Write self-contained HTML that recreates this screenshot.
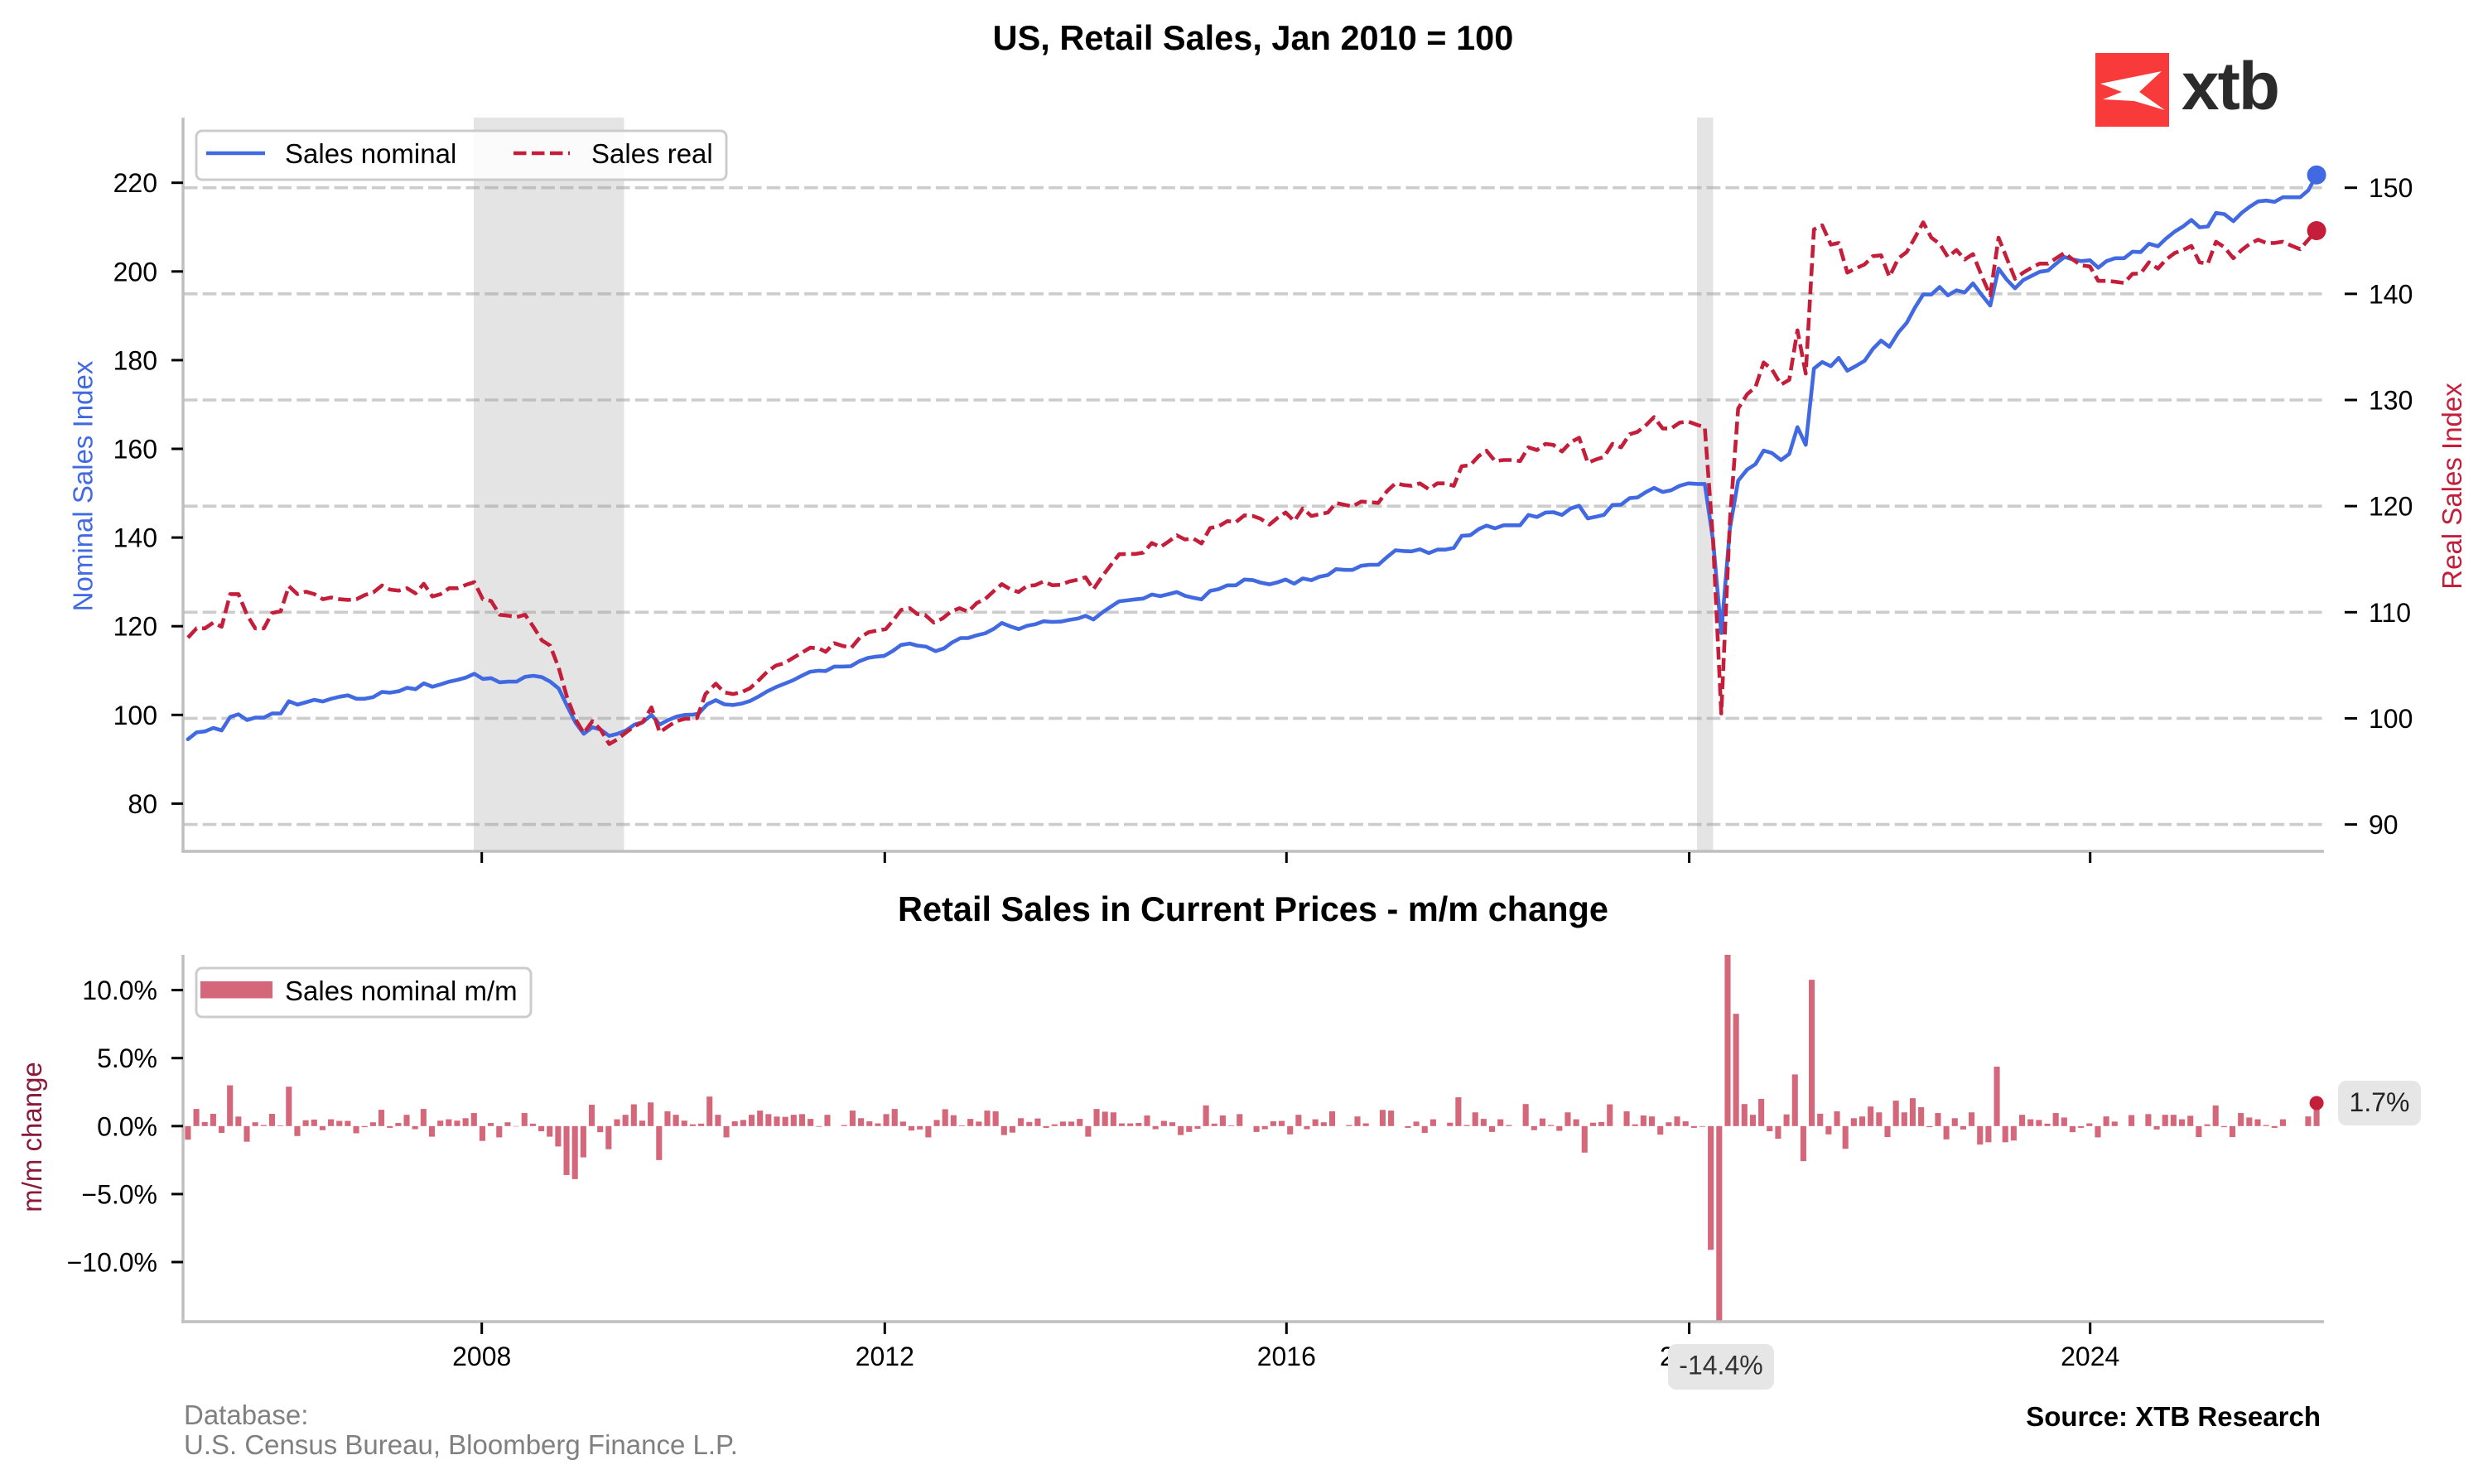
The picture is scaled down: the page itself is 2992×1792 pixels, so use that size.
<!DOCTYPE html>
<html>
<head>
<meta charset="utf-8">
<style>
html,body{margin:0;padding:0;background:#fff;}
svg{display:block;}
text{font-family:"Liberation Sans",Arial,sans-serif;}
</style>
</head>
<body>
<svg id="chart" width="2992" height="1792" viewBox="0 0 2992 1792" xmlns="http://www.w3.org/2000/svg">
<rect width="2992" height="1792" fill="#ffffff"/>

<!-- Title -->
<text x="1513" y="60" font-size="41.5" font-weight="bold" text-anchor="middle" fill="#000">US, Retail Sales, Jan 2010 = 100</text>

<!-- Logo -->
<rect x="2530" y="64" width="89" height="89" fill="#f93a3a"/>
<path d="M2536,101 L2610,86 L2583,111 L2614,133 L2577,122 L2539,120 L2562,111 Z" fill="#ffffff"/>
<text x="2634" y="132" font-size="82" font-weight="bold" fill="#2b2b2b" letter-spacing="-2">xtb</text>

<!-- Shaded recession regions -->
<rect x="572" y="142" width="181.5" height="886" fill="#e4e4e4"/>
<rect x="2049" y="142" width="19.5" height="886" fill="#e4e4e4"/>

<!-- Gridlines (right axis) -->
<g stroke="#999999" stroke-opacity="0.5" stroke-width="3.6" stroke-dasharray="16.5 6.2" fill="none">
<line x1="222" y1="226.7" x2="2806" y2="226.7"/>
<line x1="222" y1="354.85" x2="2806" y2="354.85"/>
<line x1="222" y1="483" x2="2806" y2="483"/>
<line x1="222" y1="611.15" x2="2806" y2="611.15"/>
<line x1="222" y1="739.3" x2="2806" y2="739.3"/>
<line x1="222" y1="867.45" x2="2806" y2="867.45"/>
<line x1="222" y1="995.6" x2="2806" y2="995.6"/>
</g>

<!-- Lines -->
<polyline id="blueLine" fill="none" stroke="#4169e1" stroke-width="4.6" stroke-linejoin="round" stroke-linecap="round" points=""/>
<polyline id="redLine" fill="none" stroke="#c41e3a" stroke-width="4.6" stroke-linejoin="round" stroke-dasharray="15.5 6.5" points=""/>
<circle cx="2797.1" cy="211.3" r="11.5" fill="#4169e1"/>
<circle cx="2797.1" cy="278.5" r="11.5" fill="#c41e3a"/>

<!-- Top chart spines -->
<g stroke="#bfbfbf" stroke-width="3.5">
<line x1="221" y1="142" x2="221" y2="1029.7"/>
<line x1="219.3" y1="1028" x2="2806" y2="1028"/>
</g>

<!-- Top chart left ticks -->
<g stroke="#000" stroke-width="3">
<line x1="207" y1="220.7" x2="221" y2="220.7"/>
<line x1="207" y1="327.8" x2="221" y2="327.8"/>
<line x1="207" y1="434.9" x2="221" y2="434.9"/>
<line x1="207" y1="542.0" x2="221" y2="542.0"/>
<line x1="207" y1="649.1" x2="221" y2="649.1"/>
<line x1="207" y1="756.2" x2="221" y2="756.2"/>
<line x1="207" y1="863.3" x2="221" y2="863.3"/>
<line x1="207" y1="970.4" x2="221" y2="970.4"/>
</g>
<g font-size="32" text-anchor="end" fill="#000">
<text x="190" y="232.2">220</text>
<text x="190" y="339.3">200</text>
<text x="190" y="446.4">180</text>
<text x="190" y="553.5">160</text>
<text x="190" y="660.6">140</text>
<text x="190" y="767.7">120</text>
<text x="190" y="874.8">100</text>
<text x="190" y="981.9">80</text>
</g>

<!-- Top chart right ticks -->
<g stroke="#000" stroke-width="3">
<line x1="2831" y1="226.7" x2="2846" y2="226.7"/>
<line x1="2831" y1="354.85" x2="2846" y2="354.85"/>
<line x1="2831" y1="483" x2="2846" y2="483"/>
<line x1="2831" y1="611.15" x2="2846" y2="611.15"/>
<line x1="2831" y1="739.3" x2="2846" y2="739.3"/>
<line x1="2831" y1="867.45" x2="2846" y2="867.45"/>
<line x1="2831" y1="995.6" x2="2846" y2="995.6"/>
</g>
<g font-size="32" text-anchor="start" fill="#000">
<text x="2860" y="238.2">150</text>
<text x="2860" y="366.35">140</text>
<text x="2860" y="494.5">130</text>
<text x="2860" y="622.65">120</text>
<text x="2860" y="750.8">110</text>
<text x="2860" y="878.95">100</text>
<text x="2860" y="1007.1">90</text>
</g>

<!-- Top chart x ticks -->
<g stroke="#000" stroke-width="3">
<line x1="581.7" y1="1029" x2="581.7" y2="1042"/>
<line x1="1068.3" y1="1029" x2="1068.3" y2="1042"/>
<line x1="1553.3" y1="1029" x2="1553.3" y2="1042"/>
<line x1="2039.6" y1="1029" x2="2039.6" y2="1042"/>
<line x1="2523.7" y1="1029" x2="2523.7" y2="1042"/>
</g>

<!-- Axis labels -->
<text transform="translate(111.5,587) rotate(-90)" font-size="33" text-anchor="middle" fill="#4169e1">Nominal Sales Index</text>
<text transform="translate(2972,587) rotate(-90)" font-size="33" text-anchor="middle" fill="#c41e3a">Real Sales Index</text>

<!-- Top legend -->
<rect x="237" y="158" width="640" height="59" rx="7" ry="7" fill="#ffffff" fill-opacity="0.85" stroke="#cccccc" stroke-width="3"/>
<line x1="249" y1="185" x2="320" y2="185" stroke="#4169e1" stroke-width="4.6"/>
<text x="344" y="197" font-size="33" fill="#000">Sales nominal</text>
<line x1="620" y1="185" x2="688" y2="185" stroke="#c41e3a" stroke-width="4.6" stroke-dasharray="15.5 6.5"/>
<text x="714" y="197" font-size="33" fill="#000">Sales real</text>

<!-- Subtitle -->
<text x="1513" y="1112" font-size="41.5" font-weight="bold" text-anchor="middle" fill="#000">Retail Sales in Current Prices - m/m change</text>

<!-- Bars -->
<g id="bars" fill="#d5677b"></g>
<circle cx="2797.1" cy="1332" r="8.5" fill="#c41e3a"/>

<!-- Bottom chart spines -->
<g stroke="#bfbfbf" stroke-width="3.5">
<line x1="221" y1="1153" x2="221" y2="1597.7"/>
<line x1="219.3" y1="1596" x2="2806" y2="1596"/>
</g>

<!-- Bottom chart y ticks -->
<g stroke="#000" stroke-width="3">
<line x1="207" y1="1195.6" x2="221" y2="1195.6"/>
<line x1="207" y1="1277.7" x2="221" y2="1277.7"/>
<line x1="207" y1="1359.8" x2="221" y2="1359.8"/>
<line x1="207" y1="1441.9" x2="221" y2="1441.9"/>
<line x1="207" y1="1524.0" x2="221" y2="1524.0"/>
</g>
<g font-size="32" text-anchor="end" fill="#000">
<text x="190" y="1207.1">10.0%</text>
<text x="190" y="1289.2">5.0%</text>
<text x="190" y="1371.3">0.0%</text>
<text x="190" y="1453.4">−5.0%</text>
<text x="190" y="1535.5">−10.0%</text>
</g>
<text transform="translate(50,1373) rotate(-90)" font-size="33" text-anchor="middle" fill="#8b1a3a">m/m change</text>

<!-- Bottom chart x ticks -->
<g stroke="#000" stroke-width="3">
<line x1="581.7" y1="1597" x2="581.7" y2="1611"/>
<line x1="1068.3" y1="1597" x2="1068.3" y2="1611"/>
<line x1="1553.3" y1="1597" x2="1553.3" y2="1611"/>
<line x1="2039.6" y1="1597" x2="2039.6" y2="1611"/>
<line x1="2523.7" y1="1597" x2="2523.7" y2="1611"/>
</g>
<g font-size="32" text-anchor="middle" fill="#000">
<text x="581.7" y="1649">2008</text>
<text x="1068.3" y="1649">2012</text>
<text x="1553.3" y="1649">2016</text>
<text x="2039.6" y="1649">2020</text>
<text x="2523.7" y="1649">2024</text>
</g>

<!-- Bottom legend -->
<rect x="237" y="1169" width="404" height="59" rx="7" ry="7" fill="#ffffff" fill-opacity="0.85" stroke="#cccccc" stroke-width="3"/>
<rect x="242" y="1185" width="87" height="20.5" fill="#d5677b"/>
<text x="344" y="1208" font-size="33" fill="#000">Sales nominal m/m</text>

<!-- Annotations -->
<rect x="2014" y="1623" width="128" height="55" rx="10" ry="10" fill="#e6e6e6"/>
<text x="2078" y="1659.5" font-size="32" text-anchor="middle" fill="#333">-14.4%</text>
<rect x="2823" y="1305" width="100" height="54" rx="10" ry="10" fill="#e6e6e6"/>
<text x="2873" y="1342" font-size="32" text-anchor="middle" fill="#222">1.7%</text>

<!-- Footer -->
<text x="222" y="1720" font-size="33" fill="#808080">Database:</text>
<text x="222" y="1756" font-size="33" fill="#808080">U.S. Census Bureau, Bloomberg Finance L.P.</text>
<text x="2802" y="1722" font-size="33" font-weight="bold" text-anchor="end" fill="#000">Source: XTB Research</text>
</svg>

<script>
(function(){
var NS="http://www.w3.org/2000/svg";
var s1=1568/650, s2=1568/780;
function seg(ox,oy,s,xs,ys,lo,hi){var r=[];for(var i=0;i<xs.length&&i<ys.length;i++){var X=ox+xs[i]/s,Y=oy+ys[i]/s;if(X>=lo&&X<hi)r.push(X.toFixed(1)+","+Y.toFixed(1));}return r;}

var x3=[65,90,114,139,163,188,212,237,261,286,310,335,359,384,409,433,458,482,507,531,556,580,605,630,654,679,703,728,752,777,801,826,850,875,899,924,948,973,998,1022,1047,1071,1096,1120,1145,1169,1194,1218,1243,1267,1292,1316,1341,1366,1390,1415,1439,1464,1488,1513,1537];
var b3=[1068,1048,1045,1035,1042,1003,995,1012,1005,1005,993,993,957,967,960,953,958,950,944,940,950,950,945,930,932,928,918,922,905,915,908,900,895,888,877,892,890,902,900,900,886,883,887,900,920,970,1020,1052,1033,1040,1058,1052,1042,1025,1018,997,1025,1012,1002,997,996];
var r3=[772,745,745,728,740,645,645,705,745,745,700,695,622,645,638,645,660,655,660,662,660,648,640,620,632,635,628,643,615,652,645,628,628,618,610,660,665,705,708,712,705,740,780,795,860,945,1010,1050,1015,1040,1082,1068,1048,1030,1018,975,1048,1030,1015,1008,1008];

var x4b=[105,130,155,180,205,230,255,280,305,330,355,380,405,430,455,475,500,525,548,572,598,622,645,670,695,720,742,768,795,820,843,868,890,915,940,965,988,1013,1037,1062,1085,1110,1135,1160,1185,1210,1232,1255,1280,1305,1330,1355,1378,1400,1425,1450,1475,1498,1522,1548];
var b4=[1162,1135,1123,1135,1137,1133,1125,1112,1097,1085,1075,1065,1052,1040,1037,1038,1025,1025,1024,1010,1000,996,994,980,962,958,964,967,980,972,955,942,942,934,928,915,898,908,916,906,902,893,895,894,889,885,877,888,868,851,835,832,829,827,815,820,814,808,819,826];
var x4r=[100,125,155,180,205,230,255,280,305,330,355,380,405,430,455,475,500,525,550,575,600,625,650,672,695,720,742,765,790,815,840,865,890,915,940,965,988,1013,1037,1062,1085,1110,1135,1160,1185,1210,1232,1255,1280,1305,1330,1355,1378,1400,1425,1450,1475,1498,1522,1548];
var r4=[1175,1105,1075,1100,1105,1100,1088,1065,1040,1022,1015,1000,985,970,972,982,957,965,970,940,925,920,916,890,860,855,872,875,897,885,865,855,865,840,828,805,785,800,808,790,788,777,788,787,777,772,765,800,763,730,698,697,697,693,665,677,660,643,655,650];

var x5=[0,25,50,75,100,125,150,175,200,222,248,272,295,320,345,370,393,418,442,468,490,515,540,565,590,615,640,662,686,712,737,760,785,808,833,858,880,905,930,955,978,1002,1027,1052,1075,1100,1125,1150,1175,1200,1222,1247,1272,1297,1320,1345,1368,1393,1418,1443,1468,1492,1516];
var b5=[1128,1138,1143,1118,1113,1102,1102,1085,1087,1094,1099,1093,1085,1097,1082,1087,1077,1072,1055,1057,1057,1045,1042,1042,1020,1000,1002,1003,997,1008,998,998,993,958,956,938,928,936,927,927,927,897,903,890,889,897,878,870,907,902,897,868,867,848,846,830,818,830,825,812,805,808,807];
var r5=[970,965,980,935,930,915,918,898,900,908,925,905,890,915,878,900,895,890,862,868,872,858,860,862,828,805,810,812,805,822,805,805,812,755,752,725,710,740,737,737,740,700,708,690,693,712,685,672,745,735,728,690,700,662,655,635,612,645,645,628,625,635,642];

var x6=[0,20,37,57,77,98,118,140,160,180,200,222,242,262,282,302,322,343,362,383,403,425,445,465,485,507,527,547,567,587,607,627,648,668,688,710,730,750,770,790,810,830,850,870,890,910,930,950,972,992,1012,1033,1055,1075,1095,1115,1137,1157,1178,1198,1218,1238,1258,1278,1298,1320,1340,1360,1380,1400,1420,1440,1462,1482,1502,1522];
var b6=[810,813,813,950,1175,920,805,778,765,732,738,755,740,675,718,533,517,527,507,538,527,514,485,465,480,445,422,385,353,353,335,355,343,348,326,355,380,290,317,338,318,308,298,295,278,262,268,272,270,288,272,265,265,249,250,230,236,217,200,188,172,190,188,155,158,175,155,140,127,125,128,117,117,117,100,63];
var r6=[660,670,675,950,1370,900,630,595,578,518,535,572,560,440,545,195,185,232,228,300,290,280,260,258,310,265,250,215,178,215,230,262,245,268,255,310,355,215,265,315,300,288,278,278,265,252,268,282,285,320,320,322,325,303,302,275,290,268,252,245,235,275,278,225,238,265,245,230,220,228,228,225,235,243,220,198];

var blue=[].concat(seg(200,450,s1,x3,b3,0,840),seg(800,380,s1,x4b,b4,840,1436),seg(1430,250,s1,x5,b5,1436,2045),seg(2040,180,s2,x6,b6,2045,9999));
var red=[].concat(seg(200,450,s1,x3,r3,0,840),seg(800,380,s1,x4r,r4,840,1436),seg(1430,250,s1,x5,r5,1436,2045),seg(2040,180,s2,x6,r6,2045,9999));
document.getElementById("blueLine").setAttribute("points",blue.join(" "));
document.getElementById("redLine").setAttribute("points",red.join(" "));

var z7=[-1.0,1.26,0.3,0.9,-0.5,3.0,0.7,-1.15,0.28,0.08,0.9,0.05,2.9,-0.73,0.43,0.48,-0.3,0.5,0.38,0.38,-0.53,-0.08,0.28,1.2,-0.13,0.23,0.83,-0.23,1.26,-0.78,0.4,0.5,0.4,0.58,0.96,-1.09,0.23,-0.83,0.28,-0.03,0.96,0.18,-0.38,-0.78,-1.5,-3.6,-3.9,-2.3,1.57,-0.45,-1.7,0.5,0.83,1.6,0.4,1.74,-2.5,1.09,0.83,0.4,0.13,0.18,2.17,0.83,-0.83,0.35,0.45,0.83,1.14,0.88,0.7,0.68,0.83,0.88,0.53,-0.05,0.83,0,0.08,1.14,0.58,0.35,0.2];
var z8=[0.88,1.26,0.33,-0.33,-0.25,-0.83,0.45,1.24,0.8,0.05,0.53,0.33,1.14,1.09,-0.66,-0.48,0.58,0.30,0.56,-0.13,0.13,0.33,0.33,0.53,-0.78,1.26,1.06,1.01,0.2,0.2,0.23,0.78,-0.23,0.38,0.28,-0.66,-0.43,-0.2,1.52,0.18,0.78,0.05,0.88,0,-0.43,-0.23,0.35,0.38,-0.61,0.83,-0.23,0.5,0.28,1.09,0.0,0.08,0.71,0.2,0,1.19,1.14,0,-0.13,0.33,-0.5,0.5,0,0.25,2.12,0.08,1.01,0.53,-0.43,0.5,0.08,0,1.62,-0.3,0.56,0.08,-0.35,1.01,0.5];
var z9=[-1.95,0.25,0.3,1.6,0,1.09,0.13,0.78,0.71,-0.63,0.28,0.71,0.35,-0.13,-0.05,-9.1,-14.3,18.0,8.26,1.62,0.83,2.0,-0.38,-0.93,0.86,3.8,-2.58,10.76,0.91,-0.61,1.09,-1.67,0.58,0.71,1.44,1.01,-0.81,1.87,1.01,2.05,1.39,-0.08,0.96,-0.98,0.58,-0.25,1.01,-1.36,-1.19,4.37,-1.19,-1.06,0.83,0.5,0.45,0.18,0.96,0.63,-0.45,-0.13,0.2,-0.83,0.71,0.33,0,0.81,0,0.88,-0.25,0.83,0.83,0.5,0.76,-0.81,0.13,1.52,-0.08,-0.81,0.96,0.63,0.5,0.08,-0.13,0.5,0,0,0.71,1.7];
var bars=[].concat(z7,z8,z9);
var n=bars.length,x0=226.9,x1=2797.1,dx=(x1-x0)/(n-1),y0=1359.8,k=16.42,w=7.1;
var g=document.getElementById("bars");
for(var i=0;i<n;i++){
  var v=bars[i]; if(v===0) continue;
  var yv=y0-v*k;
  var top=Math.max(Math.min(y0,yv),1153), bot=Math.min(Math.max(y0,yv),1596);
  var h=bot-top; if(h<=0) continue;
  var r=document.createElementNS(NS,"rect");
  r.setAttribute("x",(x0+i*dx-w/2).toFixed(2));
  r.setAttribute("y",top.toFixed(2));
  r.setAttribute("width",w);
  r.setAttribute("height",h.toFixed(2));
  g.appendChild(r);
}
})();
</script>
</body>
</html>
